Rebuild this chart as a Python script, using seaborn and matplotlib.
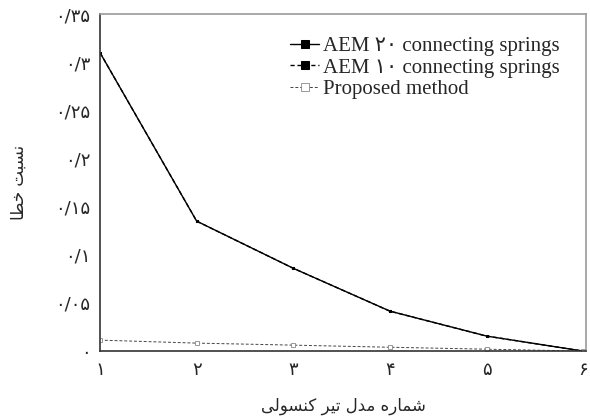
import matplotlib
matplotlib.use("Agg")
import matplotlib.pyplot as plt
import seaborn as sns
import pandas as pd

# model number (x) and error ratio (y)
models = [1, 2, 3, 4, 5, 6]
aem20 = [0.310, 0.135, 0.086, 0.0415, 0.0156, 0.0]
aem10 = [0.310, 0.135, 0.086, 0.0415, 0.0156, 0.0]
proposed = [0.0114, 0.0083, 0.0062, 0.0040, 0.0020, 0.0]

x_ticklabels = ["۱", "۲", "۳", "۴", "۵", "۶"]
y_ticks = [0, 0.05, 0.1, 0.15, 0.2, 0.25, 0.3, 0.35]
y_ticklabels = ["۰", "۰/۰۵", "۰/۱", "۰/۱۵", "۰/۲", "۰/۲۵", "۰/۳", "۰/۳۵"]
x_label = "شماره مدل تیر کنسولی"
y_label = "نسبت خطا"
series_names = ["AEM ۲۰ connecting springs", "AEM ۱۰ connecting springs", "Proposed method"]

# minimal Persian shaping (matplotlib has no RTL / joining support)
FORMS = {
    "ن": ("\uFEE5", "\uFEE6", "\uFEE7", "\uFEE8"),
    "س": ("\uFEB1", "\uFEB2", "\uFEB3", "\uFEB4"),
    "ب": ("\uFE8F", "\uFE90", "\uFE91", "\uFE92"),
    "ت": ("\uFE95", "\uFE96", "\uFE97", "\uFE98"),
    "خ": ("\uFEA5", "\uFEA6", "\uFEA7", "\uFEA8"),
    "ط": ("\uFEC1", "\uFEC2", "\uFEC3", "\uFEC4"),
    "ش": ("\uFEB5", "\uFEB6", "\uFEB7", "\uFEB8"),
    "م": ("\uFEE1", "\uFEE2", "\uFEE3", "\uFEE4"),
    "ه": ("\uFEE9", "\uFEEA", "\uFEEB", "\uFEEC"),
    "ل": ("\uFEDD", "\uFEDE", "\uFEDF", "\uFEE0"),
    "ی": ("\uFBFC", "\uFBFD", "\uFBFE", "\uFBFF"),
    "ک": ("\uFB8E", "\uFB8F", "\uFB90", "\uFB91"),
    "ا": ("\uFE8D", "\uFE8E"),
    "ر": ("\uFEAD", "\uFEAE"),
    "د": ("\uFEA9", "\uFEAA"),
    "و": ("\uFEED", "\uFEEE"),
}


def shape_fa(text):
    out = []
    for i, ch in enumerate(text):
        if ch not in FORMS:
            out.append(ch)
            continue
        prev = text[i - 1] if i > 0 else ""
        nxt = text[i + 1] if i + 1 < len(text) else ""
        join_prev = prev in FORMS and len(FORMS[prev]) == 4
        join_next = len(FORMS[ch]) == 4 and nxt in FORMS
        f = FORMS[ch]
        if join_prev and join_next:
            out.append(f[3])
        elif join_prev:
            out.append(f[1])
        elif join_next:
            out.append(f[2])
        else:
            out.append(f[0])
    return "".join(reversed(out))


sns.set_style("white")
plt.rcParams["font.family"] = ["Liberation Serif", "DejaVu Sans"]

df = pd.DataFrame({"model": models, "aem20": aem20, "aem10": aem10, "proposed": proposed})

fig = plt.figure(figsize=(5.9, 4.16), dpi=100)
ax = fig.add_axes([0.1695, 0.156, 0.824, 0.81])

sns.lineplot(data=df, x="model", y="aem20", ax=ax, color="black", lw=1.0,
             marker="s", markersize=2, markeredgecolor="black", label=series_names[0])
sns.lineplot(data=df, x="model", y="aem10", ax=ax, color="black", lw=1.0, linestyle=(0, (3, 2)),
             marker="s", markersize=2, markeredgecolor="black", label=series_names[1])
sns.lineplot(data=df, x="model", y="proposed", ax=ax, color="#444444", lw=0.7, linestyle=(0, (3, 2)),
             marker="s", markersize=2.2, markerfacecolor="white", markeredgecolor="#888888",
             markeredgewidth=0.6, label=series_names[2])

ax.set_xlim(1, 6.03)
ax.set_ylim(0, 0.35)
ax.set_xticks(models)
ax.set_xticklabels(x_ticklabels, fontsize=13, family=["DejaVu Sans"])
ax.set_yticks(y_ticks)
ax.set_yticklabels(y_ticklabels, fontsize=13, family=["DejaVu Sans"])
ax.tick_params(direction="in", length=5, color="#aaaaaa", width=0.8, pad=7)

for side in ["left", "bottom"]:
    ax.spines[side].set_color("#333333")
    ax.spines[side].set_linewidth(1.2)
for side in ["top", "right"]:
    ax.spines[side].set_color("#999999")
    ax.spines[side].set_linewidth(1.2)

ax.set_xlabel(shape_fa(x_label), fontsize=12, family=["DejaVu Sans"], labelpad=13)
ax.set_ylabel(shape_fa(y_label), fontsize=12, family=["DejaVu Sans"], labelpad=20)

leg = ax.legend(loc="upper right", frameon=False, handlelength=1.4,
                handletextpad=0.2, markerscale=2.6, labelspacing=0.1,
                bbox_to_anchor=(0.985, 0.99),
                prop={"family": ["Liberation Serif", "DejaVu Sans"], "size": 15})

fig.savefig("out.png", dpi=100)
